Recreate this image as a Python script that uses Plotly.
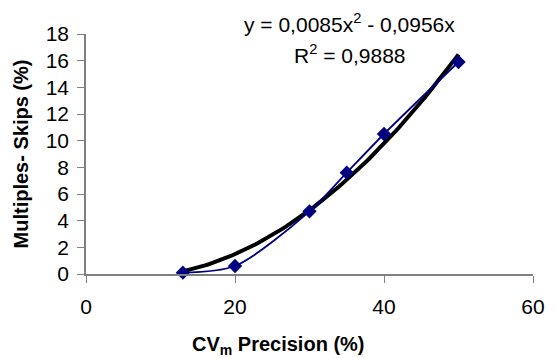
import numpy as np
import plotly.graph_objects as go

cv_precision = [13, 20, 30, 35, 40, 50]
multiples_skips = [0.1, 0.6, 4.7, 7.6, 10.5, 15.9]
trend_coef = [0.0085, -0.0956, 0.0]  # y = 0.0085x^2 - 0.0956x
x_ticks = [0, 20, 40, 60]
y_ticks = list(range(0, 19, 2))

xt = np.linspace(min(cv_precision), max(cv_precision), 100)
yt = np.polyval(trend_coef, xt)

FAM = "Liberation Sans"
tick_font = dict(family=FAM, size=21, color="black")
title_font = dict(family=FAM, size=20, color="black")

fig = go.Figure()
fig.add_trace(go.Scatter(x=xt, y=yt, mode="lines",
                         line=dict(color="black", width=4), showlegend=False))
fig.add_trace(go.Scatter(x=cv_precision, y=multiples_skips, mode="lines+markers",
                         line=dict(color="#000080", width=1.8, shape="spline", smoothing=0.8),
                         marker=dict(symbol="diamond", size=11, color="#000080"),
                         showlegend=False, cliponaxis=False))

fig.update_layout(
    width=557, height=358,
    margin=dict(l=86, r=13, t=34, b=84),
    paper_bgcolor="white", plot_bgcolor="white",
    font=dict(family=FAM, size=21, color="black"),
    xaxis=dict(range=[0, 60], tickvals=x_ticks, showgrid=False, zeroline=False,
               showline=True, linecolor="#808080", linewidth=1.5,
               ticks="outside", ticklen=7, tickcolor="#808080", tickwidth=1.2,
               ticklabelstandoff=6, tickfont=tick_font),
    yaxis=dict(range=[0, 18], tickvals=y_ticks, showgrid=False, zeroline=False,
               showline=True, linecolor="#808080", linewidth=1.5,
               ticks="outside", ticklen=7, tickcolor="#808080", tickwidth=1.2,
               ticklabelstandoff=4, tickfont=tick_font,
               title=dict(text="<b>Multiples- Skips (%)</b>", font=title_font, standoff=12)),
)
# x-axis title (centred on the chart area, as in the reference)
fig.add_annotation(text="<b>CV<sub>m</sub> Precision (%)</b>", xref="paper", yref="paper",
                   x=(283 - 86) / 458, y=(274 - 345) / 240, xanchor="center", yanchor="middle",
                   showarrow=False, font=title_font)
fig.add_annotation(text="y = 0,0085x<sup>2</sup> - 0,0956x", xref="paper", yref="paper",
                   x=(356 - 86) / 458, y=(274 - 23) / 240, xanchor="center", yanchor="middle",
                   showarrow=False, font=dict(family=FAM, size=21, color="black"))
fig.add_annotation(text="R<sup>2</sup> = 0,9888", xref="paper", yref="paper",
                   x=(357 - 86) / 458, y=(274 - 54) / 240, xanchor="center", yanchor="middle",
                   showarrow=False, font=dict(family=FAM, size=21, color="black"))

fig.write_html("out.html")
